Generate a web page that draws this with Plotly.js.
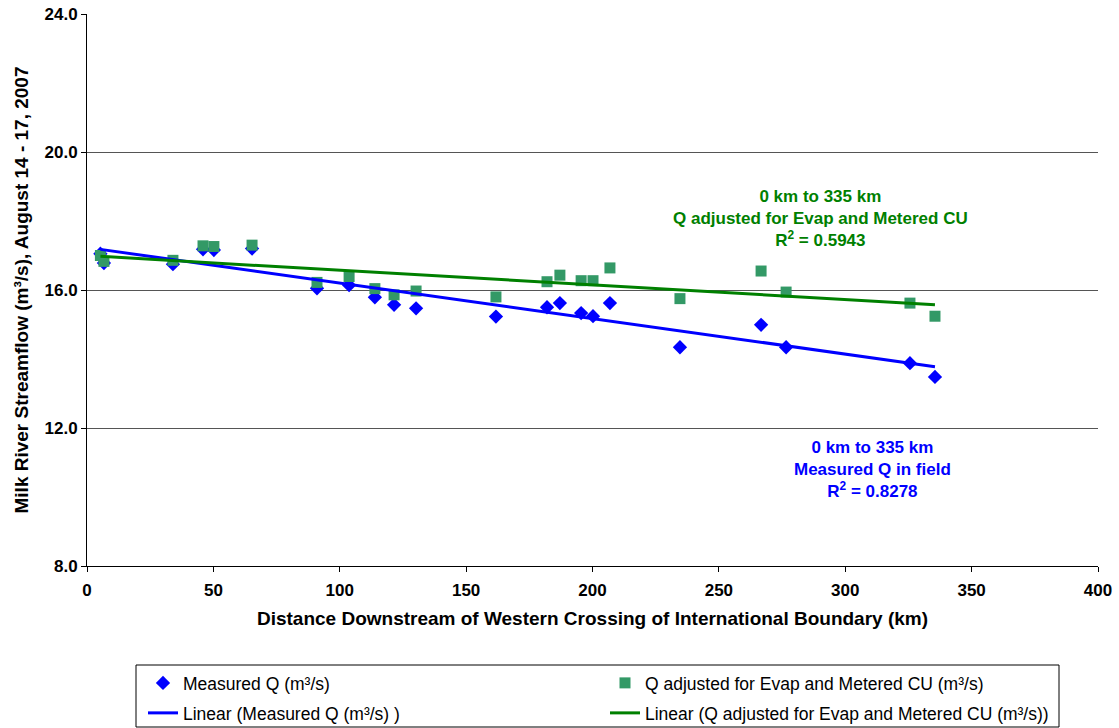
<!DOCTYPE html>
<html>
<head>
<meta charset="utf-8">
<script src="https://cdn.plot.ly/plotly-3.0.1.min.js"></script>
<style>html,body{margin:0;padding:0;background:#fff;}#chart{width:1119px;height:728px;}</style>
</head>
<body>
<div id="chart"></div>
<script>
// Distance downstream (km)
const distanceKm = [5.3, 6.7, 34.0, 45.9, 50.2, 65.3, 91.0, 103.7, 113.9, 121.5, 130.2, 161.8, 182.0, 187.1, 195.5, 200.2, 206.9, 234.6, 266.7, 276.6, 325.6, 335.5];
// Measured Q (m³/s)
const measuredQ = [17.05, 16.78, 16.75, 17.18, 17.16, 17.2, 16.05, 16.14, 15.79, 15.57, 15.47, 15.23, 15.5, 15.62, 15.33, 15.24, 15.62, 14.34, 14.99, 14.34, 13.88, 13.48];
// Q adjusted for Evap and Metered CU (m³/s)
const adjustedQ = [17.0, 16.83, 16.86, 17.28, 17.26, 17.3, 16.22, 16.39, 16.04, 15.86, 15.97, 15.8, 16.24, 16.43, 16.27, 16.27, 16.64, 15.75, 16.55, 15.94, 15.62, 15.24];

const xTickVals = [0, 50, 100, 150, 200, 250, 300, 350, 400];
const yTickVals = [8, 12, 16, 20, 24];

function linFit(xs, ys) {
  const n = xs.length;
  let sx = 0, sy = 0, sxx = 0, sxy = 0;
  for (let i = 0; i < n; i++) { sx += xs[i]; sy += ys[i]; sxx += xs[i]*xs[i]; sxy += xs[i]*ys[i]; }
  const b = (n*sxy - sx*sy) / (n*sxx - sx*sx);
  const a = (sy - b*sx) / n;
  const x0 = Math.min(...xs), x1 = Math.max(...xs);
  return {x: [x0, x1], y: [a + b*x0, a + b*x1]};
}
const fitM = linFit(distanceKm, measuredQ);
const fitA = linFit(distanceKm, adjustedQ);

const FONT = "Liberation Sans, Arial, sans-serif";

const traces = [
  {x: distanceKm, y: measuredQ, type: 'scatter', mode: 'markers', name: 'Measured Q (m³/s)', legend: 'legend',
   marker: {symbol: 'diamond', color: '#0000FF', size: 11}},
  {x: distanceKm, y: adjustedQ, type: 'scatter', mode: 'markers', name: 'Q adjusted for Evap and Metered CU (m³/s)', legend: 'legend',
   marker: {symbol: 'square', color: '#339966', size: 11}},
  {x: fitM.x, y: fitM.y, type: 'scatter', mode: 'lines', name: 'Linear (Measured Q (m³/s) )', legend: 'legend2',
   line: {color: '#0000FF', width: 3}},
  {x: fitA.x, y: fitA.y, type: 'scatter', mode: 'lines', name: 'Linear (Q adjusted for Evap and Metered CU (m³/s))', legend: 'legend2',
   line: {color: '#008000', width: 3}}
];

const legendBase = {
  orientation: 'h', xref: 'container', yref: 'container', x: 143/1119, xanchor: 'left', yanchor: 'middle',
  borderwidth: 0, bgcolor: 'rgba(0,0,0,0)',
  entrywidth: 417, entrywidthmode: 'pixels',
  font: {family: FONT, size: 17.5}
};

const layout = {
  width: 1119, height: 728,
  margin: {l: 87, r: 21, t: 14, b: 162, autoexpand: false},
  paper_bgcolor: '#fff', plot_bgcolor: '#fff',
  font: {family: FONT, color: '#000'},
  showlegend: true,
  xaxis: {
    range: [0, 400], tickvals: xTickVals, ticks: 'outside', ticklen: 5, tickcolor: '#000',
    showline: true, linecolor: '#000', linewidth: 1, showgrid: false, zeroline: false,
    ticklabelstandoff: 4,
    tickfont: {family: FONT, size: 17, weight: 'bold'},
    title: {text: 'Distance Downstream of Western Crossing of International Boundary (km)',
            font: {family: FONT, size: 19, weight: 'bold'}, standoff: 12}
  },
  yaxis: {
    range: [8, 24], tickvals: yTickVals, tickformat: '.1f', ticks: 'outside', ticklen: 5, tickcolor: '#000',
    showline: true, linecolor: '#000', linewidth: 1, showgrid: true, gridcolor: '#555', gridwidth: 1, zeroline: false,
    tickfont: {family: FONT, size: 17, weight: 'bold'},
    title: {text: 'Milk River Streamflow (m³/s), August 14 - 17, 2007',
            font: {family: FONT, size: 19, weight: 'bold'}, standoff: 10}
  },
  legend: Object.assign({}, legendBase, {y: (728 - 683) / 728}),
  legend2: Object.assign({}, legendBase, {y: (728 - 713) / 728}),
  shapes: [
    {type: 'rect', xref: 'paper', yref: 'paper',
     x0: (136 - 87) / 1011, x1: (1059 - 87) / 1011, y0: (566 - 727) / 552, y1: (566 - 665) / 552,
     line: {color: '#000', width: 1}, fillcolor: 'rgba(0,0,0,0)', layer: 'below'}
  ],
  annotations: [
    {x: 290.2, y: 18.08, xref: 'x', yref: 'y', showarrow: false, align: 'center',
     text: '0 km to 335 km<br>Q adjusted for Evap and Metered CU<br>R<sup>2</sup> = 0.5943',
     font: {family: FONT, size: 17, weight: 'bold', color: '#008000'}},
    {x: 310.8, y: 10.8, xref: 'x', yref: 'y', showarrow: false, align: 'center',
     text: '0 km to 335 km<br>Measured Q in field<br>R<sup>2</sup> = 0.8278',
     font: {family: FONT, size: 17, weight: 'bold', color: '#0000FF'}}
  ]
};

Plotly.newPlot('chart', traces, layout, {displayModeBar: false, staticPlot: true});
</script>
</body>
</html>
